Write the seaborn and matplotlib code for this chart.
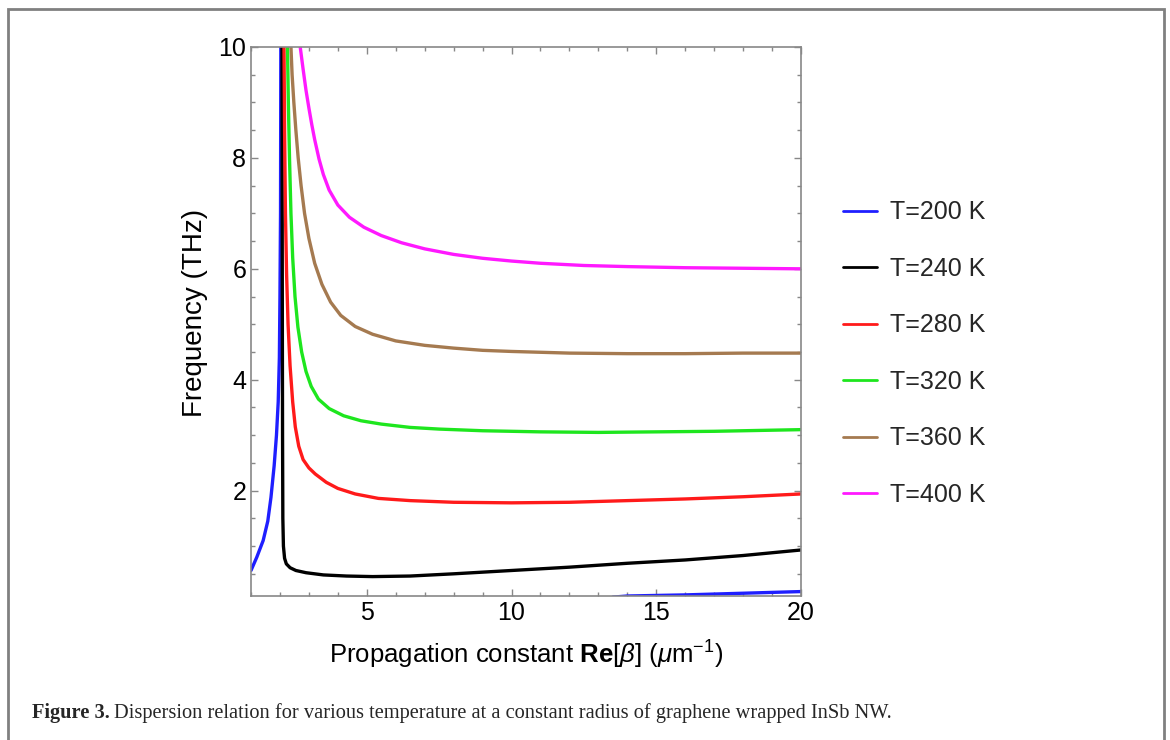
import pandas as pd
import matplotlib.pyplot as plt
from matplotlib.patches import Rectangle
from matplotlib.ticker import MultipleLocator
import seaborn as sns

# curvas: Re[beta] (um^-1) vs frecuencia (THz)
etiquetas = ["T=200 K", "T=240 K", "T=280 K", "T=320 K", "T=360 K", "T=400 K"]
colores = ["#1f1fff", "#000000", "#ff1a1a", "#1ee61e", "#a57a50", "#ff19ff"]

# T=200 K tiene dos tramos
x_200a = [1.0, 1.2, 1.42, 1.58, 1.69, 1.8, 1.88, 1.94, 1.98, 2.0, 2.02, 2.03]
y_200a = [0.56, 0.8, 1.1, 1.45, 1.88, 2.45, 3.0, 3.6, 4.4, 5.5, 7.0, 10.0]
x_200b = [13.5, 14.0, 16.0, 18.0, 20.0]
y_200b = [0.08, 0.1, 0.12, 0.15, 0.18]

x_240 = [2.07, 2.08, 2.09, 2.1, 2.12, 2.16, 2.22, 2.35, 2.55, 2.9, 3.5, 4.3, 5.2, 6.5,
         8.0, 10.0, 12.0, 14.0, 16.0, 18.0, 20.0]
y_240 = [10.0, 6.0, 3.0, 1.5, 1.0, 0.78, 0.68, 0.61, 0.56, 0.52, 0.48, 0.46, 0.45, 0.46,
         0.5, 0.56, 0.62, 0.69, 0.75, 0.83, 0.93]

x_280 = [2.14, 2.16, 2.19, 2.23, 2.28, 2.35, 2.44, 2.53, 2.65, 2.8, 3.0, 3.22, 3.6, 4.0,
         4.6, 5.4, 6.5, 8.0, 10.0, 12.0, 14.0, 16.0, 18.0, 20.0]
y_280 = [10.0, 8.5, 7.0, 5.9, 5.0, 4.25, 3.6, 3.15, 2.8, 2.56, 2.41, 2.3, 2.15, 2.04,
         1.94, 1.86, 1.82, 1.79, 1.78, 1.79, 1.82, 1.85, 1.89, 1.94]

x_320 = [2.26, 2.29, 2.33, 2.38, 2.44, 2.52, 2.62, 2.75, 2.9, 3.08, 3.33, 3.7, 4.2, 4.8,
         5.5, 6.5, 7.5, 9.0, 11.0, 13.0, 15.0, 17.0, 20.0]
y_320 = [10.0, 9.0, 8.0, 7.0, 6.2, 5.5, 4.95, 4.5, 4.15, 3.88, 3.65, 3.48, 3.35, 3.26,
         3.2, 3.14, 3.11, 3.08, 3.06, 3.05, 3.06, 3.07, 3.1]

x_360 = [2.38, 2.42, 2.48, 2.55, 2.63, 2.73, 2.85, 3.0, 3.2, 3.45, 3.75, 4.1, 4.6, 5.2,
         6.0, 7.0, 8.0, 9.0, 10.0, 12.0, 14.0, 16.0, 18.0, 20.0]
y_360 = [10.0, 9.5, 9.0, 8.5, 8.0, 7.5, 7.0, 6.55, 6.1, 5.72, 5.4, 5.16, 4.96, 4.82,
         4.7, 4.62, 4.57, 4.53, 4.51, 4.48, 4.47, 4.47, 4.48, 4.48]

x_400 = [2.7, 2.8, 2.9, 3.0, 3.1, 3.2, 3.35, 3.5, 3.7, 4.0, 4.4, 4.9, 5.5, 6.2, 7.0,
         8.0, 9.0, 10.0, 11.0, 12.5, 14.0, 16.0, 18.0, 20.0]
y_400 = [10.0, 9.6, 9.22, 8.9, 8.6, 8.33, 7.98, 7.7, 7.42, 7.15, 6.93, 6.75, 6.6, 6.47,
         6.36, 6.26, 6.19, 6.14, 6.1, 6.06, 6.04, 6.02, 6.01, 6.0]

tramos = [
    ("T=200 K", "a", x_200a, y_200a),
    ("T=200 K", "b", x_200b, y_200b),
    ("T=240 K", "a", x_240, y_240),
    ("T=280 K", "a", x_280, y_280),
    ("T=320 K", "a", x_320, y_320),
    ("T=360 K", "a", x_360, y_360),
    ("T=400 K", "a", x_400, y_400),
]

filas = []
for t, tr, xs, ys in tramos:
    for xv, yv in zip(xs, ys):
        filas.append({"beta": xv, "freq": yv, "T": t, "tramo": t + tr})
df = pd.DataFrame(filas)

sns.set_style("ticks")
plt.rcParams['font.family'] = ['Liberation Sans', 'DejaVu Sans']
plt.rcParams['mathtext.fontset'] = 'custom'
plt.rcParams['mathtext.rm'] = 'Liberation Sans'
plt.rcParams['mathtext.it'] = 'Liberation Sans:italic'
plt.rcParams['mathtext.bf'] = 'Liberation Sans:bold'

fig = plt.figure(figsize=(11.7, 7.4), dpi=100)
ax = fig.add_axes([251 / 1170, 1 - 596 / 740, 550 / 1170, 549 / 740])

sns.lineplot(data=df, x="beta", y="freq", hue="T", units="tramo", estimator=None,
             sort=False, palette=dict(zip(etiquetas, colores)), hue_order=etiquetas,
             linewidth=2.4, ax=ax)

ax.set_xlim(1, 20)
ax.set_ylim(0.1, 10)
ax.set_xticks([5, 10, 15, 20])
ax.set_yticks([2, 4, 6, 8, 10])
ax.xaxis.set_minor_locator(MultipleLocator(1))
ax.yaxis.set_minor_locator(MultipleLocator(0.5))
ax.tick_params(which="both", direction="in", top=True, right=True, color="#888888",
               labelsize=18, labelcolor="black", width=1)
ax.tick_params(which="major", length=5)
ax.tick_params(which="minor", length=3)
for s in ax.spines.values():
    s.set_color("#888888")
    s.set_linewidth(1.2)

ax.set_xlabel(r"Propagation constant $\mathbf{Re}$[$\beta$] ($\mu$m$^{-1}$)",
              fontsize=18.5, color="black", labelpad=10)
ax.set_ylabel("Frequency (THz)", fontsize=20, color="black")
ax.yaxis.set_label_coords(-0.078, 0.515)

sns.move_legend(ax, "center left", bbox_to_anchor=(843 / 1170, 0.522),
                bbox_transform=fig.transFigure, frameon=False, title=None,
                fontsize=18, handlelength=1.35, handletextpad=0.55,
                labelspacing=1.3, borderpad=0, borderaxespad=0)
for h in ax.get_legend().get_lines():
    h.set_linewidth(2)

# marco y pie de figura
fig.patches.append(Rectangle((8 / 1170, -0.1), 1156 / 1170, 1.1 - 9 / 740,
                             transform=fig.transFigure, fill=False,
                             edgecolor="#808080", linewidth=2))

t1 = fig.text(32 / 1170, 1 - 718 / 740, "Figure 3.", fontfamily="Liberation Serif",
              fontweight="bold", fontsize=14.7, va="baseline")
fig.canvas.draw()
bb = t1.get_window_extent()
fig.text(bb.x1 / 1170 + 4 / 1170, 1 - 718 / 740,
         "Dispersion relation for various temperature at a constant radius of graphene wrapped InSb NW.",
         fontfamily="Liberation Serif", fontsize=14.7, va="baseline")

fig.savefig("out.png", dpi=100)
